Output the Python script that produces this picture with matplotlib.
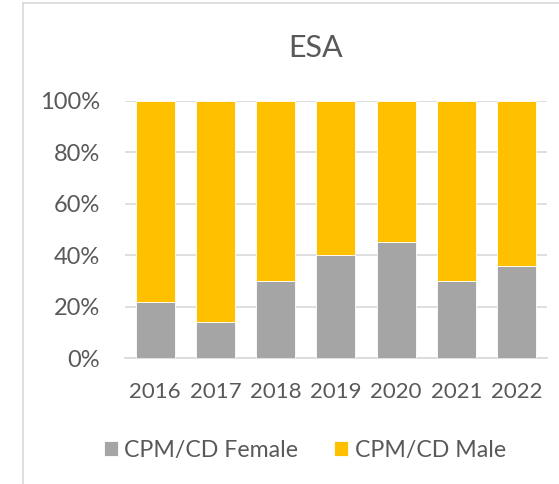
import matplotlib
matplotlib.use("Agg")
import matplotlib.pyplot as plt
from matplotlib.lines import Line2D
from matplotlib.ticker import FuncFormatter
import numpy as np

years = ["2016", "2017", "2018", "2019", "2020", "2021", "2022"]
female = [22, 14, 30, 40, 45, 30, 36]
male = [100 - v for v in female]

GREY = "#A5A5A5"
GOLD = "#FFC000"
TXT = "#595959"
GRID = "#D9D9D9"

plt.rcParams['font.family'] = ['Lato', 'DejaVu Sans']

fig = plt.figure(figsize=(5.59, 4.84), dpi=100)
W, H = 559, 484
ax = fig.add_axes([125 / W, (H - 358.3) / H, (546.7 - 125) / W, (358.3 - 100.7) / H])

x = np.arange(len(years))
bw = 0.65
ax.bar(x, female, bw, color=GREY, edgecolor="white", linewidth=0.6, label="CPM/CD Female", zorder=3)
ax.bar(x, male, bw, bottom=female, color=GOLD, edgecolor="white", linewidth=0.6, label="CPM/CD Male", zorder=3)

ax.set_xlim(-0.5, len(years) - 0.5)
ax.set_ylim(0, 100)
ax.set_yticks([0, 20, 40, 60, 80, 100])
ax.yaxis.set_major_formatter(FuncFormatter(lambda v, p: f"{int(v)}%"))
ax.set_xticks(x)
ax.set_xticklabels(years)
ax.grid(axis="y", color=GRID, linewidth=1.2, zorder=0)
for s in ["top", "right", "left"]:
    ax.spines[s].set_visible(False)
ax.spines["bottom"].set_color(GRID)
ax.spines["bottom"].set_linewidth(1.2)
ax.tick_params(axis="both", length=0, colors=TXT)
ax.tick_params(axis="y", pad=18, labelsize=17)
ax.tick_params(axis="x", pad=17, labelsize=16)

fig.text(316 / W, 1 - 48 / H, "ESA", ha="center", va="center", fontsize=22, color=TXT)

leg = fig.legend(loc="center", bbox_to_anchor=(305 / W, 1 - 450 / H), ncol=2, frameon=False,
                 fontsize=16.7, handlelength=0.6, handleheight=0.6, handletextpad=0.3,
                 columnspacing=1.55, labelcolor=TXT)

fig.add_artist(Line2D([22.5 / W, 22.5 / W], [0, 1 - 2.5 / H], color=GRID, linewidth=1.2, transform=fig.transFigure))
fig.add_artist(Line2D([22.5 / W, 1], [1 - 2.5 / H, 1 - 2.5 / H], color=GRID, linewidth=1.2, transform=fig.transFigure))

fig.savefig("out.png", dpi=100)
